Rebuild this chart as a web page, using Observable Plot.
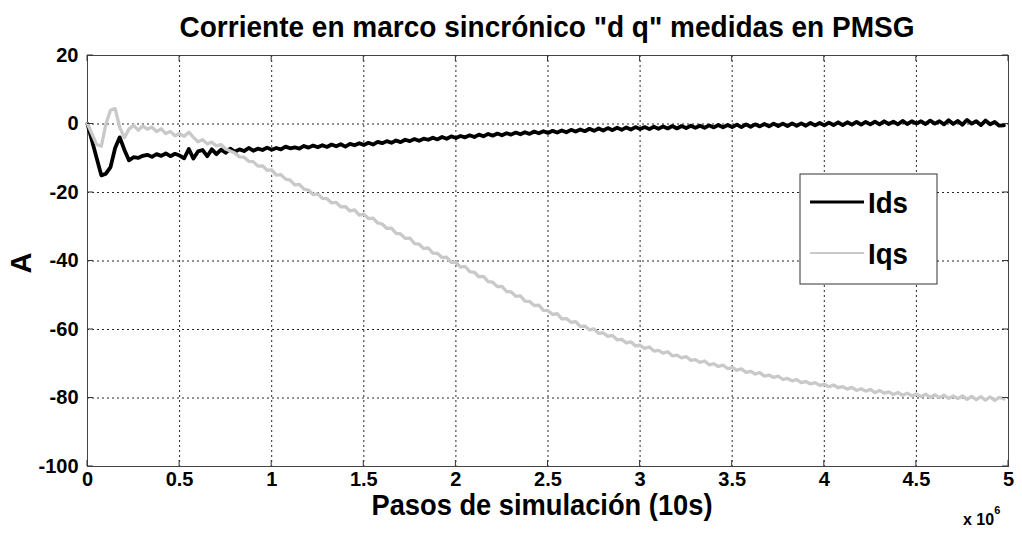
<!DOCTYPE html>
<html>
<head>
<meta charset="utf-8">
<script src="https://cdn.jsdelivr.net/npm/d3@7"></script>
<script src="https://cdn.jsdelivr.net/npm/@observablehq/plot@0.6"></script>
<style>
  html, body { margin: 0; padding: 0; background: #fff; }
  #chart { width: 1022px; height: 535px; }
</style>
</head>
<body>
<div id="chart"></div>
<script>
// ---- data (x in units of 10^6 simulation steps, sampled every 0.025) ----
const sampleStep = 0.025;
const seriesNames = ["Ids", "Iqs"];
const xTicks = [0, 0.5, 1, 1.5, 2, 2.5, 3, 3.5, 4, 4.5, 5];
const yTicks = [-100, -80, -60, -40, -20, 0, 20];

const idsValues = [
  0, -5, -10, -15, -14.5, -12.6, -7, -3.9, -7.5, -10.6,
  -9.7, -9.9, -9.3, -9.0, -9.6, -8.8, -9.3, -8.6, -9.4, -8.7,
  -9.2, -10, -7.3, -10.1, -8.0, -7.6, -9.4, -7.4, -8.8, -7.5,
  -8.4, -7.2, -8.1, -7.4, -7.9, -7.0, -7.8, -7.2, -7.6, -6.9,
  -7.5, -7.0, -7.4, -6.6, -7.1, -6.8, -7.2, -6.4, -6.9, -6.3,
  -6.8, -6.2, -6.7, -6.0, -6.5, -5.9, -6.6, -5.8, -6.2, -5.6,
  -6.1, -5.5, -6.0, -5.2, -5.6, -5.0, -5.5, -4.8, -5.3, -4.6,
  -5.0, -4.4, -4.9, -4.3, -4.6, -4.0, -4.5, -3.8, -4.3, -3.6,
  -4.1, -3.5, -3.9, -3.3, -3.8, -3.1, -3.6, -2.9, -3.4, -2.8,
  -3.3, -2.7, -3.1, -2.5, -3.0, -2.4, -2.9, -2.2, -2.7, -2.1,
  -2.6, -2.0, -2.5, -1.9, -2.4, -1.7, -2.2, -1.6, -2.1, -1.4,
  -2.0, -1.3, -1.9, -1.2, -1.8, -1.1, -1.7, -1.0, -1.6, -0.9,
  -1.5, -0.9, -1.5, -0.8, -1.4, -0.7, -1.3, -0.6, -1.3, -0.6,
  -1.2, -0.5, -1.1, -0.5, -1.1, -0.4, -1.0, -0.3, -1.0, -0.3,
  -0.9, -0.2, -0.9, -0.1, -0.8, -0.1, -0.7, 0.0, -0.7, 0.1,
  -0.6, 0.1, -0.6, 0.2, -0.5, 0.2, -0.5, 0.3, -0.4, 0.3,
  -0.4, 0.4, -0.3, 0.5, -0.3, 0.5, -0.2, 0.6, -0.2, 0.6,
  -0.1, 0.7, -0.1, 0.8, 0.0, 0.7, -0.1, 0.9, 0.0, 0.8,
  0.1, 0.8, 0.0, 1.0, 0.1, 0.8, -0.1, 1.1, 0.0, 0.9,
  -0.2, 1.2, 0.1, 0.8, -0.3, 1.0, -0.1, 0.6, -0.5, -0.4
];

const iqsValues = [
  0, -3, -6, -6.5, 0, 4, 4.5, -1, -4, -1.5,
  -0.4, -1.8, -0.6, -1.5, -0.9, -2.2, -1.4, -2.8, -2.2, -3.4,
  -2.8, -3.6, -2.4, -3.9, -5.2, -4.6, -5.8, -5.3, -6.4, -6.0,
  -7.3, -7.9, -8.5, -9.6, -9.7, -10.9, -11.0, -12.3, -12.2, -13.5,
  -13.4, -14.9, -14.8, -16.1, -16.4, -17.8, -17.6, -19.0, -19.3, -20.6,
  -20.4, -21.7, -21.8, -23.0, -22.9, -24.2, -24.1, -25.4, -25.1, -26.6,
  -26.3, -27.6, -27.5, -28.9, -29.2, -30.5, -30.4, -31.9, -32.1, -33.4,
  -33.3, -34.9, -35.1, -36.4, -36.2, -37.7, -37.8, -39.0, -38.9, -40.4,
  -40.4, -41.8, -41.6, -43.1, -43.3, -44.6, -44.5, -46.0, -46.2, -47.5,
  -47.4, -48.9, -49.0, -50.3, -50.2, -51.7, -51.8, -53.0, -52.9, -54.4,
  -54.5, -55.6, -55.4, -56.9, -56.8, -57.9, -57.7, -59.1, -59.0, -60.1,
  -59.8, -61.1, -61.0, -62.0, -61.7, -63.0, -62.9, -63.9, -63.6, -64.8,
  -64.6, -65.5, -65.1, -66.3, -66.1, -66.9, -66.5, -67.7, -67.5, -68.3,
  -67.9, -69.0, -68.8, -69.6, -69.2, -70.3, -70.0, -70.8, -70.4, -71.4,
  -71.1, -71.9, -71.5, -72.5, -72.2, -73.0, -72.6, -73.6, -73.3, -74.0,
  -73.6, -74.6, -74.3, -75.0, -74.6, -75.5, -75.2, -75.9, -75.5, -76.3,
  -76.0, -76.7, -76.2, -77.0, -76.7, -77.4, -76.9, -77.8, -77.3, -78.0,
  -77.5, -78.4, -77.8, -78.6, -78.2, -79.0, -78.4, -79.2, -78.6, -79.4,
  -78.8, -79.6, -78.9, -79.8, -79.1, -79.9, -79.2, -80.1, -79.4, -80.2,
  -79.4, -80.4, -79.5, -80.5, -79.6, -80.6, -79.7, -80.7, -79.8, -80.3
];

const titleText = 'Corriente en marco sincrónico "d q" medidas en PMSG';
const xLabelText = "Pasos de simulación (10s)";
const yLabelText = "A";

// ---- build rows ----
const idsRows = idsValues.map((v, i) => ({x: i * sampleStep, y: v}));
const iqsRows = iqsValues.map((v, i) => ({x: i * sampleStep, y: v}));

const W = 1022, H = 535;
const font = "'Liberation Sans', Arial, sans-serif";

const chart = Plot.plot({
  width: W,
  height: H,
  marginLeft: 87,
  marginRight: 14,
  marginTop: 55,
  marginBottom: 69,
  x: {domain: [0, 5]},
  y: {domain: [-100, 20]},
  style: {fontFamily: font, fontSize: "20px", fontWeight: "bold", color: "black", background: "white", overflow: "visible"},
  marks: [
    Plot.gridX(xTicks, {stroke: "black", strokeOpacity: 0.85, strokeDasharray: "2,3", strokeWidth: 1}),
    Plot.gridY(yTicks, {stroke: "black", strokeOpacity: 0.85, strokeDasharray: "2,3", strokeWidth: 1}),
    Plot.frame({stroke: "#444", strokeWidth: 1}),
    Plot.axisX({ticks: xTicks, tickFormat: d => String(d), tickSize: 0, tickPadding: 5, label: null, fontSize: 20}),
    Plot.axisY({ticks: yTicks, tickFormat: d => String(d), tickSize: 0, tickPadding: 9, label: null, fontSize: 20}),
    Plot.line(idsRows, {x: "x", y: "y", stroke: "black", strokeWidth: 3.8, strokeLinejoin: "round"}),
    Plot.line(iqsRows, {x: "x", y: "y", stroke: "#c9c9c9", strokeWidth: 3.3, strokeLinejoin: "round"})
  ]
});

document.getElementById("chart").appendChild(chart);

const svg = d3.select(chart);
const xs = chart.scale("x"), ys = chart.scale("y");
const X = v => xs.apply(v), Y = v => ys.apply(v);
const pTop = Y(20), pBottom = Y(-100), pLeft = X(0), pRight = X(5);

// inward tick marks on all four sides
const tg = svg.append("g").attr("stroke", "#333").attr("stroke-width", 1);
xTicks.forEach(t => {
  tg.append("line").attr("x1", X(t)).attr("x2", X(t)).attr("y1", pBottom).attr("y2", pBottom - 6);
  tg.append("line").attr("x1", X(t)).attr("x2", X(t)).attr("y1", pTop).attr("y2", pTop + 6);
});
yTicks.forEach(t => {
  tg.append("line").attr("y1", Y(t)).attr("y2", Y(t)).attr("x1", pLeft).attr("x2", pLeft + 6);
  tg.append("line").attr("y1", Y(t)).attr("y2", Y(t)).attr("x1", pRight).attr("x2", pRight - 6);
});

// title
svg.append("text").text(titleText)
  .attr("x", 547).attr("y", 37).attr("text-anchor", "middle")
  .attr("font-family", font).attr("font-weight", "bold").attr("font-size", 30)
  .attr("textLength", 735).attr("lengthAdjust", "spacingAndGlyphs").attr("fill", "black");

// x label
svg.append("text").text(xLabelText)
  .attr("x", 542).attr("y", 515).attr("text-anchor", "middle")
  .attr("font-family", font).attr("font-weight", "bold").attr("font-size", 30)
  .attr("textLength", 341).attr("lengthAdjust", "spacingAndGlyphs").attr("fill", "black");

// exponent label
const ex = svg.append("text").attr("x", 963).attr("y", 525).attr("text-anchor", "start")
  .attr("font-family", font).attr("font-weight", "bold").attr("font-size", 16).attr("fill", "black");
ex.append("tspan").text("x 10");
ex.append("tspan").text("6").attr("font-size", 11).attr("dy", -11);

// y label
svg.append("text").text(yLabelText)
  .attr("transform", "translate(31,263) rotate(-90)").attr("text-anchor", "middle")
  .attr("font-family", font).attr("font-weight", "bold").attr("font-size", 29).attr("fill", "black");

// legend
const lg = svg.append("g");
lg.append("rect").attr("x", 800).attr("y", 174).attr("width", 137).attr("height", 110)
  .attr("fill", "white").attr("stroke", "#333").attr("stroke-width", 1);
const legendItems = [
  {name: seriesNames[0], color: "black", w: 3.2, y: 202},
  {name: seriesNames[1], color: "#c9c9c9", w: 2, y: 253}
];
legendItems.forEach(it => {
  lg.append("line").attr("x1", 810).attr("x2", 864).attr("y1", it.y).attr("y2", it.y)
    .attr("stroke", it.color).attr("stroke-width", it.w);
  lg.append("text").text(it.name).attr("x", 868).attr("y", it.y + 11).attr("text-anchor", "start")
    .attr("font-family", font).attr("font-weight", "bold").attr("font-size", 29)
    .attr("textLength", 40).attr("lengthAdjust", "spacingAndGlyphs").attr("fill", "black");
});
</script>
</body>
</html>
